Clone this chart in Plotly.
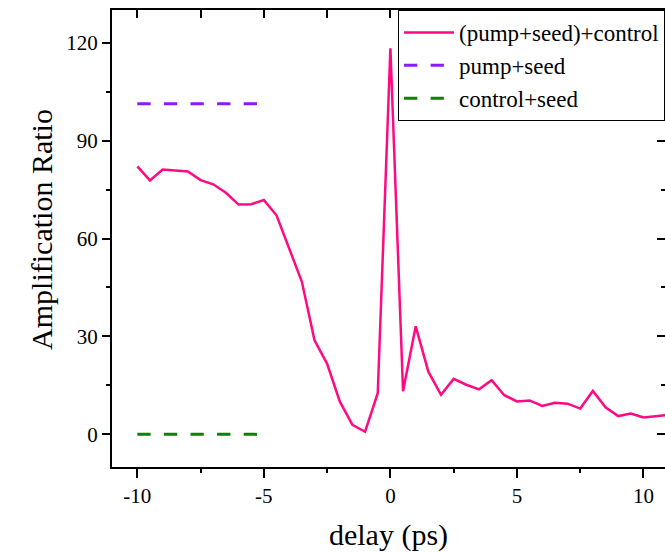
import plotly.graph_objects as go

delay = [-10, -9.5, -9, -8.5, -8, -7.5, -7, -6.5, -6, -5.5, -5, -4.5, -4, -3.5, -3, -2.5,
         -2, -1.5, -1, -0.5, 0, 0.5, 1, 1.5, 2, 2.5, 3, 3.5, 4, 4.5, 5, 5.5, 6, 6.5, 7,
         7.5, 8, 8.5, 9, 9.5, 10, 10.5, 11]
ratio = [82.1, 77.8, 81.1, 80.8, 80.5, 77.9, 76.6, 74.0, 70.4, 70.5, 71.8, 67.1, 57.0,
         46.8, 28.9, 21.6, 10.1, 2.9, 0.8, 12.6, 118.3, 13.2, 33.1, 19.2, 12.1, 17.0,
         15.2, 13.8, 16.6, 12.0, 10.1, 10.4, 8.7, 9.7, 9.4, 7.9, 13.3, 8.3, 5.6, 6.4,
         5.2, 5.6, 6.0]

ref_x = [-10, -5]
pump_seed = [101.3, 101.3]
control_seed = [0, 0]

x_tickvals = [-10, -5, 0, 5, 10]
x_ticktext = ["-10", "-5", "0", "5", "10"]

FONT = "Liberation Serif"

fig = go.Figure()
fig.add_trace(go.Scatter(x=delay, y=ratio, mode="lines", name="(pump+seed)+control",
                         line=dict(color="#FF0A82", width=2.5)))
fig.add_trace(go.Scatter(x=ref_x, y=pump_seed, mode="lines", name="pump+seed",
                         line=dict(color="#8A1BFF", width=3, dash="13.3px,13.3px")))
fig.add_trace(go.Scatter(x=ref_x, y=control_seed, mode="lines", name="control+seed",
                         line=dict(color="#0A820A", width=3, dash="13.3px,13.3px")))
fig.add_trace(go.Scatter(x=[], y=[], xaxis="x2", yaxis="y2", showlegend=False,
                         hoverinfo="skip"))

xr = [-11, 10.85]
yr = [-10, 130]

fig.update_layout(
    width=665, height=552,
    margin=dict(l=112, r=0, t=10, b=85),
    paper_bgcolor="white", plot_bgcolor="white",
    font=dict(family=FONT, size=21, color="black"),
    showlegend=True,
    hovermode=False,
    legend=dict(x=1, y=1, xanchor="right", yanchor="top",
                bordercolor="black", borderwidth=1, bgcolor="white",
                font=dict(family=FONT, size=23), itemwidth=50,
                tracegroupgap=0),
    xaxis=dict(range=xr, showgrid=False, zeroline=False, showline=True,
               linecolor="black", linewidth=2, ticks="outside", ticklen=9,
               tickwidth=2, tickcolor="black", tickvals=x_tickvals,
               ticktext=x_ticktext,
               minor=dict(ticks="outside", ticklen=4, tickwidth=2, dtick=2.5,
                          tick0=0, tickcolor="black"),
               title=dict(text="delay (ps)", font=dict(size=30), standoff=20),
               tickfont=dict(size=21)),
    xaxis2=dict(range=xr, overlaying="x", side="top", showgrid=False, zeroline=False,
                showline=True, linecolor="black", linewidth=2, ticks="inside",
                ticklen=8, tickwidth=2, tickcolor="black", tick0=0, dtick=2.5,
                showticklabels=False),
    yaxis=dict(range=yr, showgrid=False, zeroline=False, showline=True,
               linecolor="black", linewidth=2, ticks="outside", ticklen=8,
               tickwidth=2, tickcolor="black", tick0=0, dtick=30,
               minor=dict(ticks="outside", ticklen=4, tickwidth=2, dtick=15,
                          tick0=0, tickcolor="black"),
               tickfont=dict(size=21)),
    yaxis2=dict(range=yr, overlaying="y", side="right", showgrid=False, zeroline=False,
                showline=False, ticks="inside", ticklen=8, tickwidth=2,
                tickcolor="black", tick0=0, dtick=30, showticklabels=False,
                minor=dict(ticks="inside", ticklen=4, tickwidth=2, dtick=15,
                           tick0=0, tickcolor="black")),
    annotations=[dict(text="Amplification Ratio", xref="paper", yref="paper",
                      x=-0.1266, y=0.521, xanchor="center", yanchor="middle",
                      textangle=-90, showarrow=False,
                      font=dict(family=FONT, size=30, color="black"))],
)

fig.write_html("out.html", config={"displayModeBar": False},
               post_script="document.body.style.margin='0';document.body.style.overflow='hidden';")
